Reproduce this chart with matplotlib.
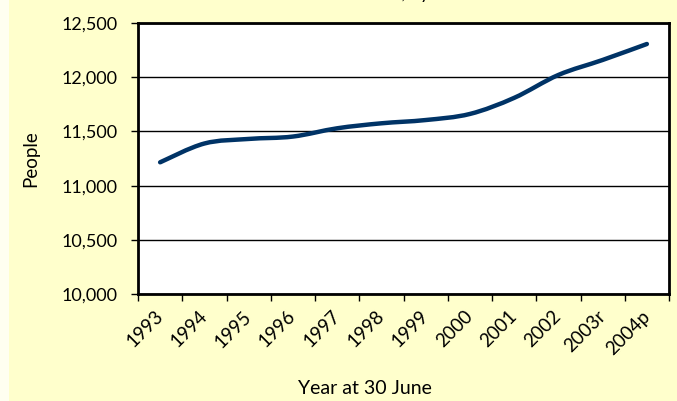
import matplotlib
matplotlib.use("Agg")
import matplotlib.pyplot as plt
from matplotlib.path import Path
from matplotlib.patches import PathPatch, Rectangle
import numpy as np

plt.rcParams["font.family"] = ["Lato", "DejaVu Sans"]

YEARS = ["1993", "1994", "1995", "1996", "1997", "1998", "1999", "2000",
         "2001", "2002", "2003r", "2004p"]
PEOPLE = [11215, 11388, 11430, 11452, 11528, 11574, 11604, 11660,
          11808, 12019, 12157, 12304]
Y_TICKS = [10000, 10500, 11000, 11500, 12000, 12500]

BG = "#FFFFCC"
LINE = "#003366"


def smooth_path(xs, ys, tension=1 / 6):
    # Excel-like smoothed line: Catmull-Rom segments as cubic beziers
    pts = np.column_stack([xs, ys]).astype(float)
    verts = [pts[0]]
    codes = [Path.MOVETO]
    n = len(pts)
    for i in range(n - 1):
        p0 = pts[i - 1] if i > 0 else pts[i]
        p1, p2 = pts[i], pts[i + 1]
        p3 = pts[i + 2] if i + 2 < n else pts[i + 1]
        c1 = p1 + (p2 - p0) * tension
        c2 = p2 - (p3 - p1) * tension
        verts += [c1, c2, p2]
        codes += [Path.CURVE4] * 3
    return Path(verts, codes)


fig = plt.figure(figsize=(6.77, 4.01), dpi=100)
fig.patch.set_facecolor(BG)
fig.patches.append(Rectangle((0, 0), 9 / 677, 1, transform=fig.transFigure,
                             facecolor="#FFFFF0", edgecolor="none", zorder=-1))

ax = fig.add_axes([138 / 677, 1 - 294.3 / 401, 531 / 677, 271.6 / 401])
ax.set_facecolor("white")

x = np.arange(len(YEARS))
ax.add_patch(PathPatch(smooth_path(x, PEOPLE), facecolor="none", edgecolor=LINE,
                       lw=3.2, capstyle="round", joinstyle="round", zorder=3))

ax.set_xlim(-0.5, len(YEARS) - 0.5)
ax.set_ylim(Y_TICKS[0], Y_TICKS[-1])
ax.set_yticks(Y_TICKS)
ax.set_yticklabels([f"{v:,}" for v in Y_TICKS], fontsize=13)
ax.grid(axis="y", color="black", lw=1)
ax.set_axisbelow(True)

# category axis: tick marks between categories, labels at centres
ax.set_xticks(np.arange(-0.5, len(YEARS), 1.0))
ax.set_xticklabels([])
ax.set_xticks(x, minor=True)
ax.set_xticklabels(YEARS, minor=True, rotation=45, ha="right", va="center",
                   rotation_mode="anchor", fontsize=13.5)
ax.tick_params(axis="x", which="minor", length=0, pad=14)
ax.tick_params(axis="y", which="major", pad=10)
ax.tick_params(axis="both", which="major", length=5, width=1, color="black")

for s in ax.spines.values():
    s.set_linewidth(2)
    s.set_color("black")

ax.set_ylabel("People", fontsize=13.5, labelpad=16)
fig.text(365 / 677, 1 - 389 / 401, "Year at 30 June", ha="center", va="center",
         fontsize=14)

# chart title, cut off at the top of the image (only descenders visible)
fig.text(470 / 677, 1 + 0.5 / 401, "Total Resident Numbers, by Year",
         ha="right", va="baseline", fontsize=13)

fig.savefig("out.png", dpi=100, facecolor=BG)
